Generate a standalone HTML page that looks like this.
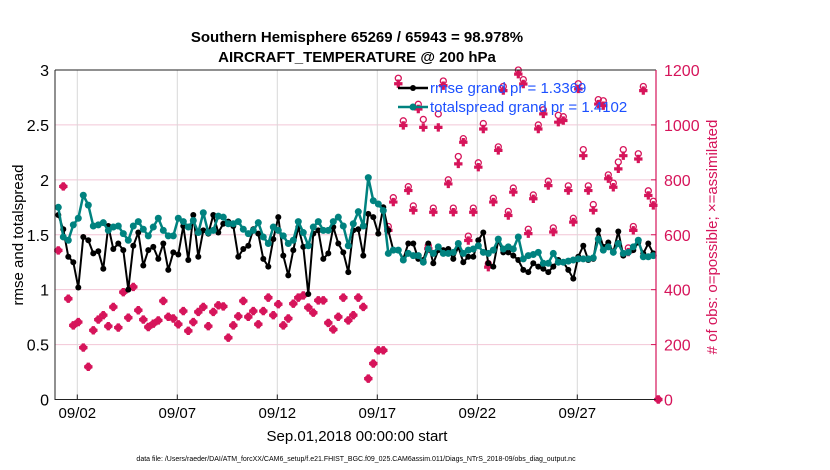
<!DOCTYPE html>
<html><head><meta charset="utf-8">
<style>
html,body{margin:0;padding:0;background:#fff;}
svg{display:block;font-family:"Liberation Sans",Arial,sans-serif;}
</style></head>
<body>
<svg id="chart" width="830" height="470" viewBox="0 0 830 470">
  <text x="357" y="42" text-anchor="middle" font-size="15" font-weight="bold">Southern Hemisphere 65269 / 65943 = 98.978%</text>
  <text x="357" y="62" text-anchor="middle" font-size="15" font-weight="bold">AIRCRAFT_TEMPERATURE @ 200 hPa</text>
  <g id="grid"></g>
  <g id="obs"></g>
  <g id="lines"></g>
  <g id="axes"></g>
  <text transform="translate(23,235) rotate(-90)" text-anchor="middle" font-size="15">rmse and totalspread</text>
  <text transform="translate(717,237) rotate(-90)" text-anchor="middle" font-size="15" fill="#d6145a"># of obs: o=possible; ×=assimilated</text>
  <text x="357" y="441" text-anchor="middle" font-size="15">Sep.01,2018 00:00:00 start</text>
  <text x="356" y="461" text-anchor="middle" font-size="7">data file: /Users/raeder/DAI/ATM_forcXX/CAM6_setup/f.e21.FHIST_BGC.f09_025.CAM6assim.011/Diags_NTrS_2018-09/obs_diag_output.nc</text>
  <g id="legend"></g>
</svg>
<script>
const xTickLabels=["09/02","09/07","09/12","09/17","09/22","09/27"];
const xTickDays=[1,6,11,16,21,26];
const yTicksLeft=[0,0.5,1,1.5,2,2.5,3];
const yTickLabelsLeft=["0","0.5","1","1.5","2","2.5","3"];
const yTicksRight=[0,200,400,600,800,1000,1200];
const rmse=[1.68,1.55,1.30,1.25,1.02,1.48,1.45,1.33,1.35,1.19,1.58,1.37,1.42,1.36,1.00,1.40,1.52,1.22,1.36,1.39,1.28,1.42,1.18,1.34,1.32,1.58,1.27,1.68,1.30,1.54,1.51,1.68,1.52,1.60,1.62,1.58,1.30,1.37,1.40,1.55,1.51,1.28,1.21,1.46,1.66,1.31,1.13,1.36,1.57,1.39,0.96,1.51,1.54,1.28,1.33,1.57,1.42,1.34,1.16,1.54,1.55,
1.31,1.69,1.66,1.51,1.75,1.54,1.36,1.36,1.28,1.42,1.42,1.28,1.27,1.42,1.24,1.36,1.36,1.37,1.28,1.39,1.25,1.30,1.30,1.45,1.52,1.24,1.21,1.45,1.34,1.34,1.31,1.27,1.18,1.16,1.24,1.21,1.19,1.16,1.21,1.27,1.25,1.18,1.10,1.30,1.40,1.27,1.28,1.54,1.39,1.43,1.34,1.53,1.31,1.34,1.36,1.43,1.33,1.42,1.33];
const spread=[1.75,1.48,1.45,1.59,1.65,1.86,1.77,1.58,1.59,1.61,1.54,1.57,1.58,1.51,1.45,1.58,1.62,1.55,1.49,1.57,1.65,1.54,1.49,1.49,1.65,1.62,1.57,1.63,1.52,1.70,1.52,1.54,1.67,1.66,1.60,1.60,1.62,1.55,1.51,1.54,1.61,1.48,1.42,1.57,1.54,1.49,1.42,1.45,1.62,1.52,1.40,1.57,1.62,1.54,1.54,1.62,1.66,1.58,1.40,1.60,1.71,
1.58,2.02,1.81,1.78,1.72,1.33,1.36,1.36,1.27,1.33,1.31,1.31,1.25,1.37,1.33,1.39,1.33,1.33,1.34,1.42,1.33,1.36,1.37,1.40,1.34,1.33,1.36,1.46,1.37,1.39,1.37,1.48,1.28,1.31,1.32,1.34,1.24,1.24,1.33,1.25,1.25,1.26,1.27,1.28,1.28,1.28,1.29,1.46,1.36,1.39,1.34,1.42,1.33,1.34,1.39,1.45,1.30,1.30,1.31];
const assimilated=[543,776,367,270,282,189,119,252,291,307,267,337,262,391,298,410,325,291,264,276,288,359,301,295,274,322,250,282,319,337,267,319,343,339,225,270,303,359,301,322,274,322,371,307,347,270,295,349,371,379,335,316,361,361,279,255,301,371,288,307,371,
337,76,131,179,179,616,719,1150,998,761,689,1058,991,549,682,991,1143,785,682,858,937,579,682,846,985,482,719,907,1125,670,755,1185,1149,604,731,985,1040,779,610,1010,1016,761,646,1131,888,761,689,1076,1070,804,773,840,888,537,616,876,1125,743,707,0];
const possible=[543,776,367,270,282,189,119,252,291,307,267,337,262,391,298,410,325,291,264,276,288,359,301,295,274,322,250,282,319,337,267,319,343,339,225,270,303,359,301,322,274,322,371,307,347,270,295,349,371,379,335,316,361,361,279,255,301,371,288,307,371,
337,76,131,179,179,630,735,1170,1015,775,705,1075,1020,560,697,1040,1160,800,697,885,950,595,697,862,1005,495,733,920,1140,685,770,1200,1165,620,745,1000,1055,795,625,1035,1030,778,660,1150,910,778,710,1092,1088,818,788,865,910,552,630,895,1140,760,722,0];

const NS="http://www.w3.org/2000/svg";
const L=55,R=656,T=70,B=399.5;
const PINK="#d6145a",TEAL="#00827f";
function xDay(d){return 57.3+20*d;}
function xIdx(i){return xDay(0.05+0.25*i);}
function yL(v){return B-(B-T)*v/3;}
function yR(v){return B-(B-T)*v/1200;}
function mk(tag,attrs,parent){const e=document.createElementNS(NS,tag);for(const k in attrs)e.setAttribute(k,attrs[k]);parent.appendChild(e);return e;}
const grid=document.getElementById('grid'),axes=document.getElementById('axes'),obs=document.getElementById('obs'),lines=document.getElementById('lines'),legend=document.getElementById('legend');

yTicksLeft.forEach((v,i)=>{
  if(v>0&&v<3){const g=mk('line',{x1:L,x2:R,y1:yL(v),y2:yL(v),stroke:'#f2c6d6','stroke-width':1},grid);
  
  }
  const t=mk('text',{x:L-6,y:yL(v)+6,'text-anchor':'end','font-size':16},axes);
  t.textContent=yTickLabelsLeft[i];
  
  
});
xTickDays.forEach((d,i)=>{
  const g=mk('line',{x1:xDay(d),x2:xDay(d),y1:T,y2:B,stroke:'#d8d8d8','stroke-width':1},grid);
  
  
  mk('line',{x1:xDay(d),x2:xDay(d),y1:B,y2:B-5,stroke:'#222'},axes);
  const t=mk('text',{x:xDay(d),y:418,'text-anchor':'middle','font-size':15},axes);
  t.textContent=xTickLabels[i];
  
  
});
yTicksRight.forEach(v=>{
  mk('line',{x1:R,x2:R-5,y1:yR(v),y2:yR(v),stroke:PINK},axes);
  const t=mk('text',{x:R+8,y:yR(v)+6,'font-size':16,fill:PINK},axes);
  t.textContent=String(v);
  
  
});
mk('path',{d:`M${L},${T}L${R},${T}M${L},${T}L${L},${B}L${R},${B}`,stroke:'#222',fill:'none','stroke-width':1},axes);
mk('line',{x1:R,x2:R,y1:T,y2:B,stroke:PINK,'stroke-width':1.2},axes);

function star(x,y,parent){
  const p=mk('path',{d:`M${x-1.6},${y-4.2}h3.2v2.6h2.6v3.2h-2.6v2.6h-3.2v-2.6h-2.6v-3.2h2.6z`,fill:PINK},parent);
  
  
}
possible.forEach((v,i)=>{
  const c=mk('circle',{cx:xIdx(i),cy:yR(v),r:3,fill:'none',stroke:PINK,'stroke-width':1.3},obs);
  
  
});
assimilated.forEach((v,i)=>star(xIdx(i),yR(v),obs));

function series(arr,color,w,r,name){
  const pl=mk('polyline',{points:arr.map((v,i)=>xIdx(i)+','+yL(v)).join(' '),fill:'none',stroke:color,'stroke-width':w,'stroke-linejoin':'round'},lines);
  
  
  arr.forEach((v,i)=>{
    const c=mk('circle',{cx:xIdx(i),cy:yL(v),r:r,fill:color},lines);
    
    
  });
}
series(rmse,'#000',2,3,'rmse');
series(spread,TEAL,2.5,3.5,'totalspread');

[[88,'#000','rmse grand pr = 1.3369',3],[107,TEAL,'totalspread grand pr = 1.4102',3.5]].forEach(([y,c,txt,r],k)=>{
  mk('line',{x1:398,x2:428,y1:y,y2:y,stroke:c,'stroke-width':2.5},legend);
  mk('circle',{cx:413,cy:y,r:r,fill:c},legend);
  const t=mk('text',{x:430,y:y+5,'font-size':15,fill:'#1c50ff'},legend);
  t.textContent=txt;
  
  
});
</script>
</body></html>
